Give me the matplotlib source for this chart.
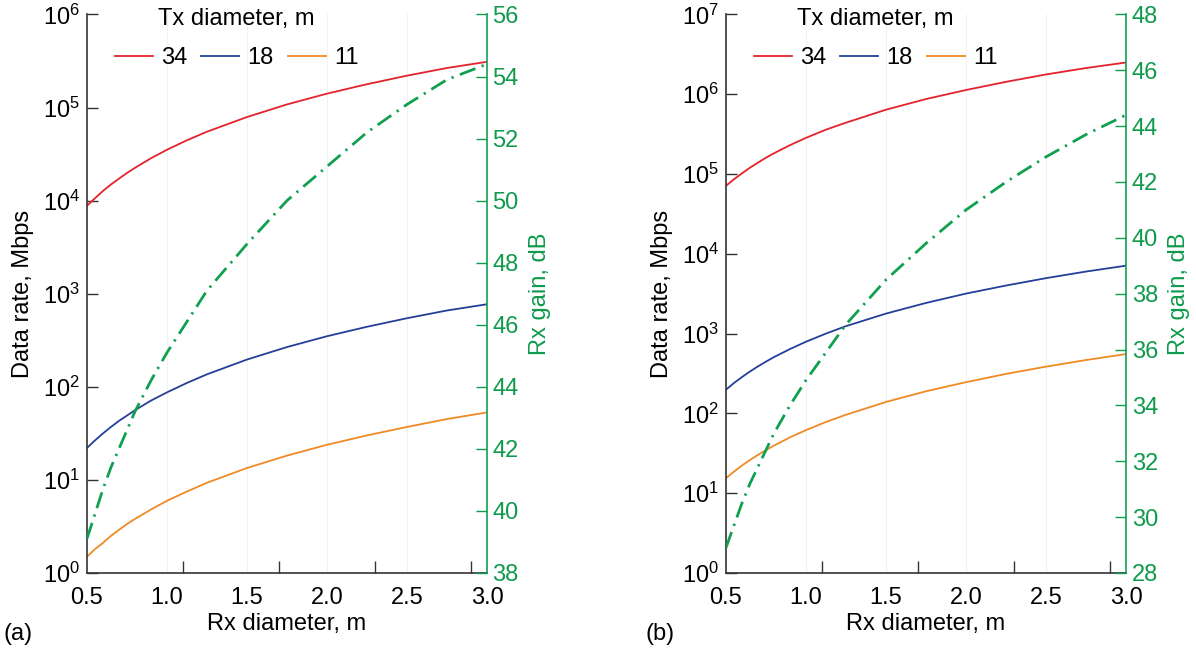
import matplotlib
matplotlib.use("Agg")
import matplotlib.pyplot as plt
from matplotlib.ticker import LogLocator, LogFormatterMathtext, FixedLocator, NullFormatter

plt.rcParams['font.family'] = ['Liberation Sans', 'DejaVu Sans']
plt.rcParams['mathtext.fontset'] = 'custom'
plt.rcParams['mathtext.rm'] = 'Liberation Sans'

# ---------------- data ----------------
rx_diam = [0.5, 0.55, 0.6, 0.65, 0.7, 0.75, 0.8, 0.9, 1.0, 1.125, 1.25, 1.5, 1.75,
           2.0, 2.25, 2.5, 2.75, 3.0]
tx_labels = ['34', '18', '11']

# panel (a)
rate_a_34 = [8.8e3, 1.06e4, 1.27e4, 1.49e4, 1.72e4, 1.98e4, 2.25e4, 2.85e4, 3.52e4,
             4.45e4, 5.5e4, 7.9e4, 1.08e5, 1.41e5, 1.78e5, 2.2e5, 2.66e5, 3.1e5]
rate_a_18 = [22, 26.5, 31.5, 37, 43, 49, 56, 71, 87, 110, 136, 196, 267, 349, 441,
             545, 660, 770]
rate_a_11 = [1.49, 1.8, 2.1, 2.5, 2.9, 3.35, 3.8, 4.8, 5.95, 7.5, 9.3, 13.4, 18.2,
             23.8, 30, 37, 45, 53]
gain_a = [39.1, 39.9, 40.7, 41.4, 42.0, 42.6, 43.2, 44.2, 45.1, 46.1, 47.1, 48.6,
          50.0, 51.1, 52.2, 53.1, 53.9, 54.4]

# panel (b)
rate_b_34 = [7.1e4, 8.6e4, 1.02e5, 1.2e5, 1.39e5, 1.6e5, 1.82e5, 2.3e5, 2.84e5,
             3.6e5, 4.4e5, 6.4e5, 8.7e5, 1.13e6, 1.43e6, 1.77e6, 2.13e6, 2.5e6]
rate_b_18 = [198, 240, 285, 335, 388, 445, 507, 640, 790, 1000, 1240, 1780, 2420,
             3170, 4000, 4950, 5990, 7100]
rate_b_11 = [15.4, 18.6, 22.2, 26, 30.2, 34.6, 39.4, 50, 61.6, 78, 96, 139, 189, 246,
             312, 385, 466, 553]
gain_b = [28.9, 29.7, 30.5, 31.2, 31.8, 32.4, 33.0, 34.0, 34.9, 35.9, 36.9, 38.5,
          39.8, 41.0, 42.0, 42.9, 43.7, 44.4]

x_ticks = [0.5, 1.0, 1.5, 2.0, 2.5, 3.0]
x_ticklabels = ['0.5', '1.0', '1.5', '2.0', '2.5', '3.0']
x_tickmarks = [1.1, 1.7, 2.3, 2.9]

gain_ticks_a = list(range(38, 57, 2))
gain_ticks_b = list(range(28, 49, 2))

# ---------------- style ----------------
C_RED = '#e3232c'
C_BLUE = '#243f98'
C_ORANGE = '#f08a24'
C_GREEN = '#10a04f'
C_GTEXT = '#0f9a4c'
FS = 17

fig = plt.figure(figsize=(11.96, 6.57), dpi=100)

def panel(rect, r34, r18, r11, gain, ylog_max, gticks, tag, tag_x):
    ax = fig.add_axes(rect)
    for xv in [1.0, 1.5, 2.0, 2.5]:
        ax.axvline(xv, color='#f2f2f2', lw=0.8, zorder=0)
    ax.plot(rx_diam, r34, color=C_RED, lw=1.3, label=tx_labels[0])
    ax.plot(rx_diam, r18, color=C_BLUE, lw=1.3, label=tx_labels[1])
    ax.plot(rx_diam, r11, color=C_ORANGE, lw=1.3, label=tx_labels[2])
    ax.set_yscale('log')
    ax.set_ylim(1, 10 ** ylog_max)
    ax.set_xlim(0.5, 3.0)
    ax.yaxis.set_major_locator(LogLocator(base=10, numticks=20))
    ax.yaxis.set_major_formatter(LogFormatterMathtext())
    ax.yaxis.set_minor_locator(FixedLocator([]))
    ax.tick_params(axis='y', which='major', direction='in', length=8, width=1.0,
                   labelsize=FS, pad=5, color='#333333')
    ax.set_xticks(x_ticks)
    ax.set_xticklabels(x_ticklabels)
    ax.xaxis.set_minor_locator(FixedLocator(x_tickmarks))
    ax.xaxis.set_minor_formatter(NullFormatter())
    ax.tick_params(axis='x', which='major', length=0, labelsize=FS, pad=10)
    ax.tick_params(axis='x', which='minor', direction='in', length=9, width=1.0, color='#333333')
    ax.spines['top'].set_visible(False)
    ax.spines['right'].set_visible(False)
    for s in ['left', 'bottom']:
        ax.spines[s].set_color('#333333')
        ax.spines[s].set_linewidth(1.2)
    ax.set_xlabel('Rx diameter, m', fontsize=FS, labelpad=3)
    ax.set_ylabel('Data rate, Mbps', fontsize=FS, labelpad=6)

    ax2 = ax.twinx()
    ax2.plot(rx_diam, gain, color=C_GREEN, lw=2.0, linestyle=(0, (6, 2.4, 0.8, 2.4)))
    ax2.set_ylim(gticks[0], gticks[-1])
    ax2.set_yticks(gticks)
    ax2.tick_params(axis='y', direction='in', length=8, width=1.0, colors=C_GTEXT,
                    labelsize=FS, pad=4)
    ax2.spines['right'].set_color(C_GREEN)
    ax2.spines['right'].set_linewidth(1.2)
    ax2.spines['top'].set_visible(False)
    ax2.spines['left'].set_visible(False)
    ax2.spines['bottom'].set_visible(False)
    ax2.set_ylabel('Rx gain, dB', color=C_GTEXT, fontsize=FS, labelpad=7)

    leg = ax.legend(loc='upper left', bbox_to_anchor=(0.07, 1.011), ncol=3, frameon=False,
                    title='Tx diameter, m', fontsize=FS, title_fontsize=FS,
                    handlelength=1.6, handletextpad=0.35, columnspacing=0.6,
                    borderaxespad=0.0, borderpad=0.0)
    leg._legend_box.sep = 12
    fig.text(tag_x, 0.035, tag, fontsize=FS, ha='left', va='center')
    return ax, ax2

panel([0.0727, 0.128, 0.3345, 0.85], rate_a_34, rate_a_18, rate_a_11, gain_a, 6,
      gain_ticks_a, '(a)', 0.003)
panel([0.607, 0.128, 0.3345, 0.85], rate_b_34, rate_b_18, rate_b_11, gain_b, 7,
      gain_ticks_b, '(b)', 0.540)

fig.savefig('out.png', dpi=100)
